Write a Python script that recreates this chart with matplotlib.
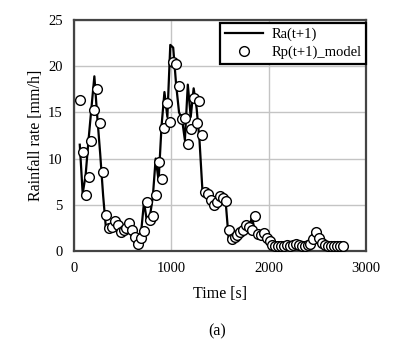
import matplotlib
matplotlib.use('Agg')
import matplotlib.pyplot as plt

plt.rcParams['font.family'] = ['Liberation Serif', 'DejaVu Serif']

# time [s], 30 s steps
time = [60, 90, 120, 150, 180, 210, 240, 270, 300, 330,
        360, 390, 420, 450, 480, 510, 540, 570, 600, 630,
        660, 690, 720, 750, 780, 810, 840, 870, 900, 930,
        960, 990, 1020, 1050, 1080, 1110, 1140, 1170, 1200, 1230,
        1260, 1290, 1320, 1350, 1380, 1410, 1440, 1470, 1500, 1530,
        1560, 1590, 1620, 1650, 1680, 1710, 1740, 1770, 1800, 1830,
        1860, 1890, 1920, 1950, 1980, 2010, 2040, 2070, 2100, 2130,
        2160, 2190, 2220, 2250, 2280, 2310, 2340, 2370, 2400, 2430,
        2460, 2490, 2520, 2550, 2580, 2610, 2640, 2670, 2700, 2730,
        2760]

# measured Ra(t+1)
ra = [11.5, 6.2, 8.2, 12.0, 15.5, 18.9, 14.5, 10.5, 6.0, 2.3,
      2.2, 2.8, 2.6, 2.0, 2.1, 2.4, 2.9, 2.2, 1.5, 0.7,
      1.2, 2.0, 5.3, 3.2, 3.7, 5.8, 10.0, 7.6, 13.5, 17.2,
      14.5, 22.3, 22.0, 18.0, 15.0, 14.3, 12.0, 18.0, 14.5, 17.6,
      15.5, 12.0, 6.6, 6.2, 5.4, 5.0, 5.2, 5.9, 5.7, 5.4,
      5.2, 1.3, 1.4, 1.7, 2.1, 2.4, 2.8, 2.5, 2.3, 3.8,
      1.8, 1.7, 1.9, 1.3, 1.0, 0.6, 0.5, 0.5, 0.5, 0.5,
      0.6, 0.5, 0.6, 0.8, 0.6, 0.5, 0.5, 0.6, 0.7, 1.3,
      2.0, 1.4, 0.9, 0.6, 0.5, 0.5, 0.5, 0.5, 0.5, 0.4,
      0.4]

# model Rp(t+1)
rp = [16.3, 10.7, 6.1, 8.0, 11.9, 15.3, 17.5, 13.9, 8.5, 3.9,
      2.5, 2.6, 3.2, 2.8, 2.0, 2.3, 2.5, 3.0, 2.3, 1.5,
      0.8, 1.4, 2.2, 5.3, 3.4, 3.8, 6.1, 9.6, 7.8, 13.3,
      16.0, 14.0, 20.5, 20.2, 17.9, 14.3, 14.4, 11.6, 13.2, 16.6,
      13.8, 16.2, 12.6, 6.4, 6.2, 5.5, 5.0, 5.3, 5.9, 5.7,
      5.4, 2.3, 1.3, 1.5, 1.7, 2.0, 2.3, 2.8, 2.6, 2.3,
      3.8, 1.8, 1.7, 1.9, 1.4, 1.1, 0.6, 0.5, 0.5, 0.5,
      0.5, 0.6, 0.5, 0.6, 0.8, 0.6, 0.5, 0.5, 0.6, 0.8,
      1.3, 2.0, 1.4, 0.9, 0.6, 0.5, 0.5, 0.5, 0.5, 0.5,
      0.5]

fig = plt.figure(figsize=(4.13, 3.5), dpi=100)
ax = fig.add_axes([0.179, 0.283, 0.707, 0.66])

ax.plot(time, ra, color='black', lw=1.6, label='Ra(t+1)', zorder=3)
ax.plot(time, rp, 'o', ms=7, mfc='white', mec='black', mew=1.0,
        label='Rp(t+1)_model', zorder=4)

ax.set_xlim(0, 3000)
ax.set_ylim(0, 25)
ax.set_xticks([0, 1000, 2000, 3000])
ax.set_yticks([0, 5, 10, 15, 20, 25])
ax.grid(True, color='#c4c4c4', lw=1.0)
ax.set_axisbelow(True)
ax.tick_params(length=0, labelsize=10.5, pad=8)
for s in ax.spines.values():
    s.set_color('#444444')
    s.set_linewidth(1.6)

ax.set_xlabel('Time [s]', fontsize=11.5, labelpad=8)
ax.set_ylabel('Rainfall rate [mm/h]', fontsize=11.5, labelpad=3)

leg = ax.legend(loc='upper right', bbox_to_anchor=(1.0, 0.985), fontsize=10.5,
                frameon=True, fancybox=False, borderaxespad=0.0,
                handlelength=2.6, handletextpad=0.6, borderpad=0.3,
                labelspacing=0.3)
leg.get_frame().set_edgecolor('black')
leg.get_frame().set_linewidth(1.6)
leg.get_frame().set_alpha(1)

fig.text(0.525, 0.052, '(a)', ha='center', va='center', fontsize=11.5)

fig.savefig('out.png', dpi=100)
